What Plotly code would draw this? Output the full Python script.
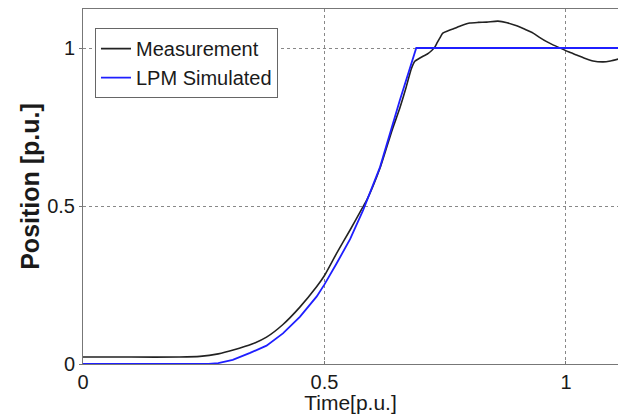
import plotly.graph_objects as go

# Measurement (black)
meas_x = [0, 0.10, 0.20, 0.242, 0.28, 0.311, 0.35, 0.38, 0.414, 0.449, 0.484, 0.50,
          0.525, 0.553, 0.577, 0.588, 0.615, 0.64, 0.656, 0.668, 0.68, 0.687, 0.695,
          0.704, 0.713, 0.722, 0.728, 0.733, 0.739, 0.745, 0.755, 0.766, 0.784, 0.801,
          0.818, 0.836, 0.859, 0.878, 0.898, 0.915, 0.932, 0.946, 0.96, 0.974, 0.988,
          1.005, 1.022, 1.04, 1.056, 1.077, 1.092, 1.108]
meas_y = [0.022, 0.022, 0.022, 0.024, 0.032, 0.044, 0.063, 0.085, 0.125, 0.18, 0.245, 0.28,
          0.35, 0.424, 0.49, 0.52, 0.62, 0.74, 0.81, 0.87, 0.935, 0.958, 0.966,
          0.974, 0.981, 0.992, 1.002, 1.016, 1.032, 1.047, 1.054, 1.060, 1.071, 1.079,
          1.081, 1.082, 1.085, 1.08, 1.07, 1.059, 1.047, 1.033, 1.02, 1.009, 1.0,
          0.988, 0.978, 0.967, 0.959, 0.956, 0.959, 0.965]

# LPM Simulated (blue)
lpm_x = [0, 0.20, 0.26, 0.28, 0.31, 0.346, 0.38, 0.414, 0.449, 0.484, 0.50, 0.525,
         0.553, 0.58, 0.615, 0.656, 0.677, 0.69, 0.75, 1.0, 1.108]
lpm_y = [0, 0, 0, 0.003, 0.013, 0.035, 0.058, 0.097, 0.149, 0.214, 0.252, 0.318,
         0.395, 0.487, 0.623, 0.835, 0.94, 1.0, 1.0, 1.0, 1.0]

tick_vals = [0, 0.5, 1]
tick_text = ["0", "0.5", "1"]

FONT = "Liberation Sans, Arial, sans-serif"
TXT = "#1a1a1a"

fig = go.Figure()
fig.add_trace(go.Scatter(x=meas_x, y=meas_y, mode="lines", name="Measurement",
                         line=dict(color="#222222", width=1.6, shape="spline", smoothing=0.6)))
fig.add_trace(go.Scatter(x=lpm_x, y=lpm_y, mode="lines", name="LPM Simulated",
                         line=dict(color="#1f1fff", width=1.8)))

fig.update_layout(
    width=618, height=414,
    margin=dict(l=83, r=0, t=9, b=50),
    paper_bgcolor="white", plot_bgcolor="white",
    font=dict(family=FONT, color=TXT, size=20),
    showlegend=True,
    legend=dict(x=0.0224, y=0.946, xanchor="left", yanchor="top",
                bgcolor="white", bordercolor="#666666", borderwidth=1,
                font=dict(family=FONT, size=20, color=TXT),
                tracegroupgap=0, itemwidth=30),
    xaxis=dict(range=[0, 1.1077], tickvals=tick_vals, ticktext=tick_text,
               automargin=False,
               showgrid=True, gridcolor="#888888", griddash="dot", gridwidth=1,
               zeroline=False, showline=True, linecolor="#777777", linewidth=1,
               mirror=True, ticks="inside", ticklen=3, tickcolor="#777777",
               tickfont=dict(size=20, color=TXT),
               title=dict(text="Time[p.u.]", font=dict(size=21, color=TXT), standoff=0)),
    yaxis=dict(range=[0, 1.1234], tickvals=tick_vals, ticktext=tick_text,
               automargin=False,
               showgrid=True, gridcolor="#888888", griddash="dot", gridwidth=1,
               zeroline=False, showline=True, linecolor="#777777", linewidth=1,
               ticks="outside", ticklen=3, tickcolor="#777777",
               tickfont=dict(size=20, color=TXT),
               title=dict(text="<b>Position [p.u.]</b>", font=dict(size=25, color=TXT), standoff=0)),
)

fig.write_html("out.html", config={"displayModeBar": False},
               post_script="document.body.style.margin='0';document.body.style.overflow='hidden';")
